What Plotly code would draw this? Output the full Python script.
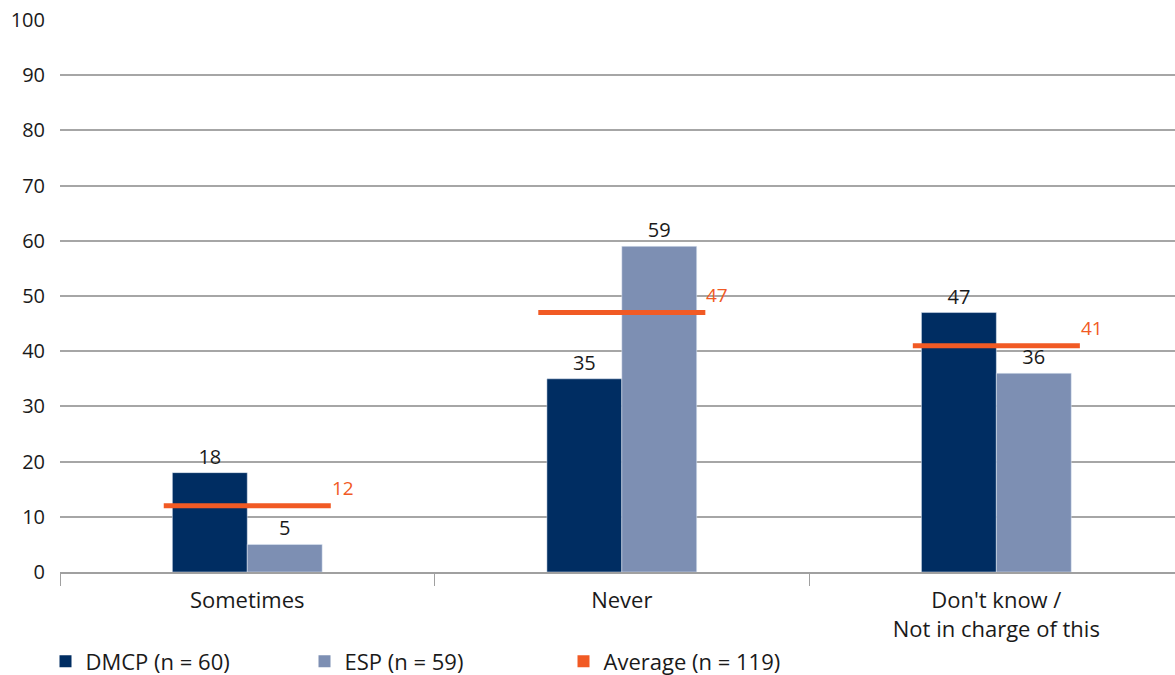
import plotly.graph_objects as go

categories = ["Sometimes", "Never", "Don't know /<br>Not in charge of this"]
dmcp = [18, 35, 47]
esp = [5, 59, 36]
average = [12, 47, 41]
names = ["DMCP (n = 60)", "ESP (n = 59)", "Average (n = 119)"]
colors = ["#002D62", "#7D8FB3", "#F15A24"]
yticks = list(range(0, 101, 10))

FONT = "Open Sans"
TXT = "#1a1a1a"
xs = list(range(len(categories)))
half = 0.223

fig = go.Figure()
for vals, name, col in [(dmcp, names[0], colors[0]), (esp, names[1], colors[1])]:
    fig.add_trace(go.Bar(x=xs, y=vals, name=name, marker_color=col,
                         text=vals, textposition="outside", cliponaxis=False,
                         showlegend=False, legendgroup=name,
                         textfont=dict(color=TXT, size=20, family=FONT)))

lx, ly = [], []
for i, v in enumerate(average):
    lx += [i - half, i + half, None]
    ly += [v, v, None]
fig.add_trace(go.Scatter(x=lx, y=ly, mode="lines", line=dict(color=colors[2], width=5),
                         showlegend=False, hoverinfo="skip", legendgroup=names[2]))
for i, v in enumerate(average):
    fig.add_annotation(x=i + half, y=v, text=str(v), showarrow=False,
                       xanchor="left", yanchor="bottom", xshift=-1, yshift=3,
                       font=dict(color=colors[2], size=19, family=FONT))
# legend entries (square swatches)
for name, col in zip(names, colors):
    fig.add_trace(go.Scatter(x=[None], y=[None], mode="markers", name=name,
                             legendgroup=name,
                             marker=dict(symbol="square", size=12, color=col)))

fig.update_layout(
    width=1175, height=675,
    margin=dict(l=60, r=0, t=20, b=103, autoexpand=False),
    paper_bgcolor="white", plot_bgcolor="white",
    barmode="group", bargap=0.6, bargroupgap=0,
    font=dict(family=FONT, size=20, color=TXT),
    legend=dict(orientation="h", x=-0.013, xanchor="left", y=-0.124, yanchor="top",
                entrywidth=214, entrywidthmode="pixels",
                font=dict(size=22, family=FONT, color=TXT), itemwidth=30,
                traceorder="normal"),
    showlegend=True,
)
fig.update_xaxes(
    tickmode="array", tickvals=xs, ticktext=categories, range=[-0.5, 2.477],
    showline=True, linecolor="#A0A0A0", linewidth=1.5, ticks="",
    tickfont=dict(size=22, family=FONT, color=TXT), showgrid=False, zeroline=False,
    ticklabelstandoff=8, ticklabeloverflow="allow", automargin=False,
    minor=dict(tickmode="array", tickvals=[-0.5, 0.5, 1.5, 2.5], ticks="outside",
               ticklen=12, tickcolor="#A0A0A0", tickwidth=1, showgrid=False),
    fixedrange=True,
)
fig.update_yaxes(
    range=[0, 100], tickmode="array", tickvals=yticks,
    showgrid=True, gridcolor="#A6A6A6", gridwidth=1.5, zeroline=False,
    showline=False, ticks="", ticklabelstandoff=14, ticklabeloverflow="allow",
    automargin=False,
    tickfont=dict(size=20, family=FONT, color=TXT),
)

fig.write_html("out.html", config={"displayModeBar": False},
               post_script="document.body.style.margin='0';")
